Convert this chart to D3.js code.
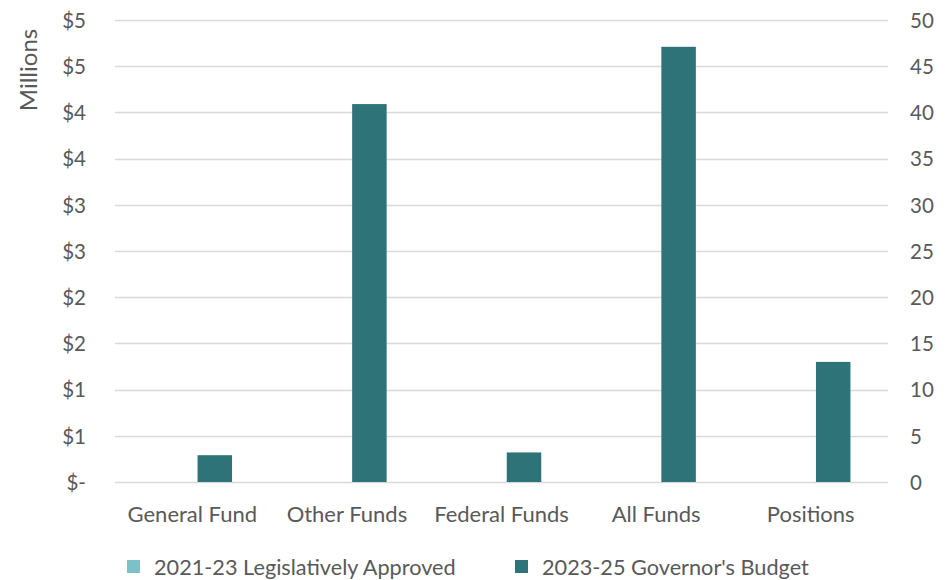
<!DOCTYPE html>
<html>
<head>
<meta charset="utf-8">
<script src="https://cdn.jsdelivr.net/npm/d3@7"></script>
<style>
  html, body { margin: 0; padding: 0; background: #fff; }
  svg text { font-family: Lato, "Open Sans", sans-serif; fill: #595959; }
</style>
</head>
<body>
<svg id="chart" width="951" height="580"></svg>
<script>
// Budget comparison by fund type (dollars in millions; positions on right axis)
const categories = ["General Fund", "Other Funds", "Federal Funds", "All Funds", "Positions"];
const seriesNames = ["2021-23 Legislatively Approved", "2023-25 Governor's Budget"];
const seriesColors = ["#7BC1C8", "#2E7378"];
// Prior biennium has no values in this chart
const approved2123 = [0, 0, 0, 0, 0];
const governor2325 = [0.29, 4.09, 0.32, 4.71, 13];
// Which categories are read on the right-hand (positions) axis
const onRightAxis = [false, false, false, false, true];

const leftTicks = [0, 0.5, 1, 1.5, 2, 2.5, 3, 3.5, 4, 4.5, 5];
const leftTickLabels = ["$-", "$1", "$1", "$2", "$2", "$3", "$3", "$4", "$4", "$5", "$5"];
const rightTicks = [0, 5, 10, 15, 20, 25, 30, 35, 40, 45, 50];

const svg = d3.select("#chart");
const plot = { left: 115, right: 888, top: 20, bottom: 482 };

const x = d3.scaleBand().domain(categories).range([plot.left, plot.right]).padding(0);
const yL = d3.scaleLinear().domain([0, 5]).range([plot.bottom, plot.top]);
const yR = d3.scaleLinear().domain([0, 50]).range([plot.bottom, plot.top]);

const barW = 34.5;
const barGap = 10.5;
const inner = d3.scaleOrdinal().domain([0, 1]).range([-(barW + barGap) / 2, (barW + barGap) / 2]);

// Gridlines
svg.append("g")
  .selectAll("line")
  .data(leftTicks)
  .join("line")
  .attr("x1", plot.left).attr("x2", plot.right)
  .attr("y1", d => Math.round(yL(d)) + 0.5).attr("y2", d => Math.round(yL(d)) + 0.5)
  .attr("stroke", "#D9D9D9").attr("stroke-width", 1.3);

// Left axis
const leftAxis = d3.axisLeft(yL).tickValues(leftTicks)
  .tickFormat((d, i) => leftTickLabels[i]).tickSize(0).tickPadding(0);
const gL = svg.append("g").attr("transform", `translate(${plot.left - 29},0)`).call(leftAxis);
gL.select(".domain").remove();
gL.selectAll("text").attr("font-size", 20.5).attr("dy", "0.36em").style("fill", "#595959");

// Right axis
const rightAxis = d3.axisRight(yR).tickValues(rightTicks).tickSize(0).tickPadding(0);
const gR = svg.append("g").attr("transform", `translate(${plot.right + 22},0)`).call(rightAxis);
gR.select(".domain").remove();
gR.selectAll("text").attr("font-size", 20.5).attr("dy", "0.36em").style("fill", "#595959");

// Bottom axis (category labels)
const bottomAxis = d3.axisBottom(x).tickSize(0).tickPadding(0);
const gB = svg.append("g").attr("transform", `translate(0,${plot.bottom + 40})`).call(bottomAxis);
gB.select(".domain").remove();
gB.selectAll("text").attr("font-size", 22).attr("dy", 0).style("fill", "#595959");

// Left axis title
svg.append("text")
  .attr("transform", "translate(37,70) rotate(-90)")
  .attr("text-anchor", "middle")
  .attr("font-size", 24)
  .text("Millions");

// Bars
const series = [approved2123, governor2325];
series.forEach((vals, si) => {
  svg.append("g")
    .selectAll("rect")
    .data(categories.map((c, i) => ({ c, v: vals[i], right: onRightAxis[i] })))
    .join("rect")
    .attr("x", d => x(d.c) + x.bandwidth() / 2 + inner(si) - barW / 2)
    .attr("width", barW)
    .attr("y", d => (d.right ? yR(d.v) : yL(d.v)))
    .attr("height", d => plot.bottom - (d.right ? yR(d.v) : yL(d.v)))
    .attr("fill", seriesColors[si]);
});

// Legend
const legendX = [127, 515];
const legend = svg.append("g");
seriesNames.forEach((name, i) => {
  legend.append("rect")
    .attr("x", legendX[i]).attr("y", 560)
    .attr("width", 13).attr("height", 13)
    .attr("fill", seriesColors[i]);
  legend.append("text")
    .attr("x", legendX[i] + 27).attr("y", 567)
    .attr("dy", "0.36em")
    .attr("font-size", 21.7)
    .text(name);
});
</script>
</body>
</html>
